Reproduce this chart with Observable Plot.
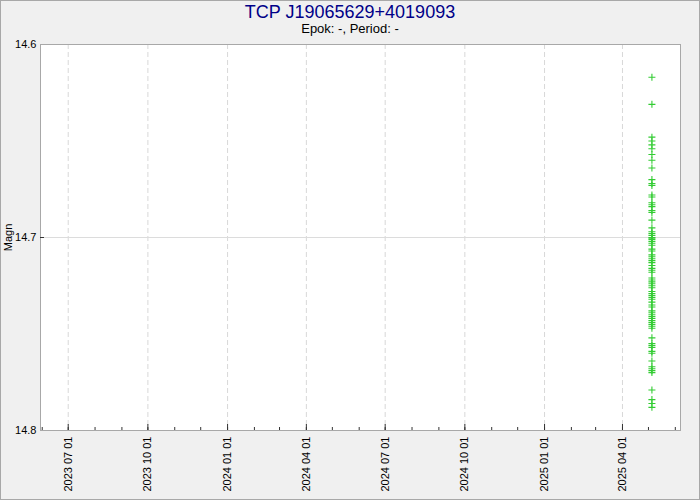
<!DOCTYPE html>
<html><head><meta charset="utf-8">
<script src="https://cdn.jsdelivr.net/npm/d3@7"></script>
<script src="https://cdn.jsdelivr.net/npm/@observablehq/plot@0.6"></script>
<style>
html,body{margin:0;padding:0;background:#f0f0f0;}
#wrap{position:relative;width:700px;height:500px;background:#f0f0f0;font-family:"Liberation Sans",Arial,sans-serif;overflow:hidden;}
#title{position:absolute;left:0;width:700px;top:2px;text-align:center;font-size:18px;color:#000088;line-height:normal;white-space:nowrap;}
#sub{position:absolute;left:0;width:700px;top:21px;text-align:center;font-size:13px;color:#000;line-height:normal;white-space:nowrap;}
#border{position:absolute;left:0;top:0;width:698px;height:498px;border:1px solid #a8a8a8;pointer-events:none;}
#chart{position:absolute;left:0;top:0;}
</style></head>
<body>
<div id="wrap">
  <div id="chart"></div>
  <div id="title">TCP J19065629+4019093</div>
  <div id="sub">Epok: -, Period: -</div>
  <div id="border"></div>
</div>
<script>
// All observations were taken on one night
const obsDate = "2025-05-05";
const magn = [
  14.617, 14.631, 14.648, 14.650, 14.652, 14.654, 14.657, 14.660, 14.664, 14.670,
  14.672, 14.673, 14.678, 14.679, 14.682, 14.683, 14.684, 14.686, 14.687, 14.691,
  14.695, 14.697, 14.698, 14.699, 14.700, 14.7004, 14.701, 14.702, 14.703, 14.704,
  14.706, 14.707, 14.709, 14.710, 14.711, 14.712, 14.713, 14.7145, 14.716, 14.717,
  14.718, 14.721, 14.722, 14.723, 14.724, 14.725, 14.726, 14.728, 14.729, 14.730,
  14.731, 14.732, 14.7335, 14.735, 14.736, 14.738, 14.739, 14.740, 14.741, 14.742,
  14.743, 14.744, 14.745, 14.746, 14.747, 14.752, 14.755, 14.756, 14.757, 14.759,
  14.760, 14.764, 14.767, 14.768, 14.769, 14.770, 14.779, 14.784, 14.786, 14.788
];
const xDomain = ["2023-05-30", "2025-06-07"];
const majorTicks = ["2023-07-01","2023-10-01","2024-01-01","2024-04-01","2024-07-01","2024-10-01","2025-01-01","2025-04-01"];
const yDomain = [14.6, 14.8];
const yTicks = [14.6, 14.7, 14.8];
const yGrid = [14.7];
const yLabel = "Magn";

const parse = d3.utcParse("%Y-%m-%d");
const data = magn.map(m => ({date: parse(obsDate), magn: m}));
const majors = majorTicks.map(parse);
const [x0, x1] = xDomain.map(parse);
const minors = d3.utcMonth.range(x0, x1);

const plot = Plot.plot({
  width: 700, height: 500,
  marginTop: 44, marginBottom: 70, marginLeft: 40, marginRight: 20,
  style: {background: "transparent", fontFamily: "'Liberation Sans', Arial, sans-serif", fontSize: "11px", color: "#000"},
  x: {type: "utc", domain: [x0, x1]},
  y: {domain: yDomain, reverse: true},
  marks: [
    Plot.frame({fill: "white", stroke: null}),
    Plot.ruleX(majors, {stroke: "#d8d8d8", strokeDasharray: "5,3"}),
    Plot.ruleY(yGrid, {stroke: "#dcdcdc"}),
    Plot.dot(data, {x: "date", y: "magn", symbol: "plus", r: 2.4, stroke: "#33cc33", strokeWidth: 1.1}),
    Plot.frame({stroke: "#a8a8a8"}),
    Plot.axisX(minors, {tickSize: -3, tickFormat: () => "", label: null, stroke: "#333"}),
    Plot.axisX(majors, {tickSize: -6, tickFormat: () => "", label: null, stroke: "#333"}),
    Plot.axisX(majors, {tickSize: 0, tickPadding: 6, tickRotate: -90, tickFormat: d3.utcFormat("%Y %m %d"), label: null}),
    Plot.axisY(yGrid, {tickSize: -4, tickFormat: () => "", label: null, stroke: "#333"}),
    Plot.axisY(yTicks, {tickSize: 0, tickPadding: 4, tickFormat: d3.format(".1f"), label: yLabel, labelAnchor: "center", labelOffset: 36, labelArrow: "none"})
  ]
});
document.getElementById("chart").appendChild(plot);
</script>
</body></html>
